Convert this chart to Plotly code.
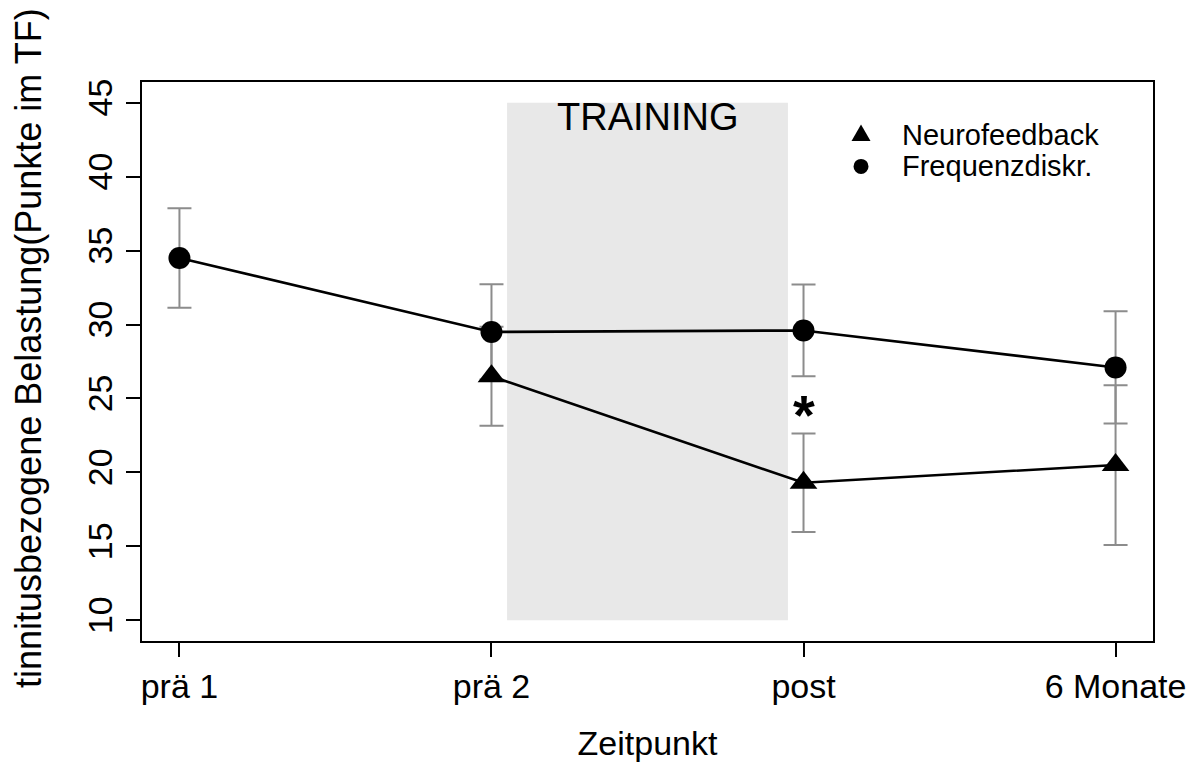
import plotly.graph_objects as go

# ---- data ----
zeitpunkte = ["prä 1", "prä 2", "post", "6 Monate"]
nf_mean = [None, 26.5, 19.3, 20.5]     # Neurofeedback
nf_err = [None, 3.35, 3.33, 5.4]
fd_mean = [34.5, 29.5, 29.6, 27.1]     # Frequenzdiskr.
fd_err = [3.36, 3.22, 3.1, 3.8]
y_ticks = [10, 15, 20, 25, 30, 35, 40, 45]
series_names = ["Neurofeedback", "Frequenzdiskr."]
training_span = (1.05, 1.95)           # category-index span of the training phase
training_y = (10, 45)

FONT = "Liberation Sans, Arial, Helvetica, sans-serif"
ERR_COL = "#8c8c8c"

fig = go.Figure()

# error bars (drawn first, under everything)
for mean, err in ((fd_mean, fd_err), (nf_mean, nf_err)):
    fig.add_trace(go.Scatter(
        x=zeitpunkte, y=mean, mode="markers",
        marker=dict(size=1, color="rgba(0,0,0,0)"),
        error_y=dict(type="data", array=err, visible=True, color=ERR_COL,
                     thickness=2, width=12),
        showlegend=False, hoverinfo="skip"))

# connecting lines
for mean in (fd_mean, nf_mean):
    fig.add_trace(go.Scatter(
        x=zeitpunkte, y=mean, mode="lines", connectgaps=False,
        line=dict(color="black", width=2.6),
        showlegend=False, hoverinfo="skip"))

# markers
fig.add_trace(go.Scatter(
    x=zeitpunkte, y=nf_mean, mode="markers", name=series_names[0],
    marker=dict(symbol="triangle-up", size=24, color="black"), showlegend=False))
fig.add_trace(go.Scatter(
    x=zeitpunkte, y=fd_mean, mode="markers", name=series_names[1],
    marker=dict(symbol="circle", size=22, color="black"), showlegend=False))

# training phase
fig.add_shape(type="rect", xref="x", yref="y",
              x0=training_span[0], x1=training_span[1],
              y0=training_y[0], y1=training_y[1],
              fillcolor="#e8e8e8", line=dict(width=0), layer="below")
fig.add_annotation(x=(training_span[0] + training_span[1]) / 2, y=44.0,
                   xref="x", yref="y", text="TRAINING", showarrow=False,
                   font=dict(family=FONT, size=38, color="black"),
                   yanchor="middle")

# significance star
fig.add_annotation(x="post", y=23.9, xref="x", yref="y", text="<b>*</b>",
                   showarrow=False, font=dict(family=FONT, size=56, color="black"),
                   yanchor="middle")

# legend (R-style, compact)
leg_sym_x, leg_txt_x = 0.7112, 0.7498
leg_rows = [0.9045, 0.849]
fig.add_shape(type="path", xref="paper", yref="paper",
              xsizemode="pixel", ysizemode="pixel",
              xanchor=leg_sym_x, yanchor=leg_rows[0],
              path="M -9.5,-5.5 L 9.5,-5.5 L 0,11 Z",
              fillcolor="black", line=dict(width=0))
fig.add_shape(type="circle", xref="paper", yref="paper",
              xsizemode="pixel", ysizemode="pixel",
              xanchor=leg_sym_x, yanchor=leg_rows[1],
              x0=-7.5, x1=7.5, y0=-7.5, y1=7.5,
              fillcolor="black", line=dict(width=0))
for name, yr in zip(series_names, leg_rows):
    fig.add_annotation(x=leg_txt_x, y=yr, xref="paper", yref="paper",
                       text=name, showarrow=False, xanchor="left", yanchor="middle",
                       font=dict(family=FONT, size=29, color="black"))

# y-axis label
fig.add_annotation(x=-0.1128, y=0.524, xref="paper", yref="paper",
                   text="tinnitusbezogene Belastung(Punkte im TF)",
                   textangle=-90, showarrow=False,
                   font=dict(family=FONT, size=36, color="black"),
                   xanchor="center", yanchor="middle")

axis_common = dict(showline=True, mirror=True, linecolor="black", linewidth=2,
                   ticks="outside", ticklen=14, tickwidth=2, tickcolor="black",
                   showgrid=False, zeroline=False, automargin=False,
                   tickfont=dict(family=FONT, size=34, color="black"))

fig.update_layout(
    width=1200, height=765,
    margin=dict(l=142, r=47, t=82, b=124),
    paper_bgcolor="white", plot_bgcolor="white",
    font=dict(family=FONT, color="black"),
    showlegend=False,
    xaxis=dict(type="category", categoryorder="array", categoryarray=zeitpunkte,
               range=[-0.12, 3.12],
               title=dict(text="Zeitpunkt", font=dict(family=FONT, size=34), standoff=27),
               **axis_common),
    yaxis=dict(range=[8.6, 46.4], tickvals=y_ticks, tickangle=-90,
               **axis_common),
)

fig.write_html("out.html")
